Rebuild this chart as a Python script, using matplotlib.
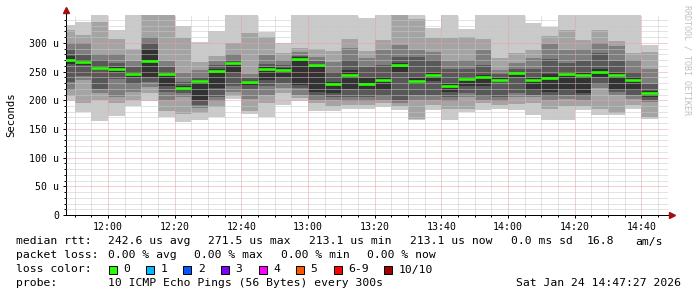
import numpy as np
import matplotlib
matplotlib.use("Agg")
import matplotlib.pyplot as plt
from matplotlib.patches import Rectangle

# 5 minute bins, minutes after 11:45
bin_start = np.arange(0, 180, 5)

# the 10 pings per bin, sorted low -> high (us); 360 = above the top of the graph
ping1 = [199, 180, 164, 173, 190, 199, 171, 162, 166, 170, 203, 176, 171, 192, 198, 182, 181, 184,
         184, 189, 183, 166, 183, 166, 180, 183, 185, 183, 175, 165, 166, 183, 175, 174, 185, 168]
ping2 = [207, 196, 200, 195, 200, 212, 182, 176, 177, 188, 208, 182, 195, 212, 204, 195, 190, 192,
         191, 195, 190, 168, 192, 185, 185, 195, 192, 193, 195, 185, 190, 190, 185, 178, 192, 170]
ping3 = [218, 235, 212, 205, 215, 223, 200, 205, 186, 198, 215, 203, 210, 222, 210, 200, 200, 198,
         198, 200, 195, 200, 200, 198, 205, 200, 198, 205, 205, 200, 202, 200, 222, 210, 203, 197]
ping4 = [232, 242, 220, 237, 228, 232, 215, 212, 192, 205, 225, 220, 225, 230, 221, 208, 205, 205,
         205, 208, 200, 210, 210, 205, 212, 208, 205, 213, 210, 208, 210, 208, 228, 215, 210, 200]
ping5 = [264, 262, 252, 250, 240, 240, 225, 218, 200, 222, 250, 226, 235, 240, 227, 215, 213, 220,
         218, 218, 250, 228, 233, 215, 225, 225, 232, 240, 218, 215, 218, 213, 241, 218, 218, 205]
ping6 = [277, 270, 260, 258, 250, 290, 250, 225, 236, 255, 267, 234, 258, 256, 275, 264, 232, 252,
         238, 240, 265, 238, 248, 228, 240, 244, 239, 250, 238, 245, 250, 248, 255, 248, 240, 217]
ping7 = [289, 279, 270, 265, 258, 300, 258, 232, 240, 262, 270, 238, 264, 262, 278, 268, 250, 270,
         258, 262, 276, 276, 270, 255, 255, 262, 245, 255, 255, 272, 265, 268, 282, 268, 250, 228]
ping8 = [300, 299, 280, 280, 268, 310, 268, 247, 252, 268, 280, 245, 279, 270, 284, 275, 266, 291,
         273, 288, 296, 288, 285, 268, 270, 288, 253, 265, 273, 298, 288, 290, 300, 295, 270, 255]
ping9 = [322, 313, 337, 307, 290, 360, 360, 309, 266, 278, 300, 318, 310, 282, 291, 290, 286, 306,
         286, 305, 360, 342, 308, 308, 310, 306, 273, 282, 288, 312, 322, 305, 322, 303, 282, 285]
ping10 = [332, 336, 360, 323, 360, 360, 360, 330, 302, 320, 360, 360, 319, 300, 360, 360, 360, 360,
          343, 360, 360, 360, 326, 360, 325, 360, 360, 360, 334, 328, 360, 360, 360, 360, 360, 296]
median = [270, 266, 257, 255, 245, 269, 245, 222, 233, 251, 265, 231, 255, 253, 271.5, 262, 229, 244,
          228, 235, 262, 233, 244, 224, 237, 241, 236, 247, 235, 238, 246, 244, 250, 244, 236, 213.1]

tick_pos = [15, 35, 55, 75, 95, 115, 135, 155, 175]
tick_labels = ["12:00", "12:20", "12:40", "13:00", "13:20", "13:40", "14:00", "14:20", "14:40"]
y_ticks = [0, 50, 100, 150, 200, 250, 300]
y_labels = ["0", "50 u", "100 u", "150 u", "200 u", "250 u", "300 u"]

loss_labels = ["0", "1", "2", "3", "4", "5", "6-9", "10/10"]
loss_colors = ["#26ff00", "#00b8ff", "#0059ff", "#7e00ff", "#ff00ff", "#ff5500", "#ff0000", "#a10000"]
smoke_colors = ["#cacaca", "#a4a4a4", "#7e7e7e", "#585858", "#323232"]

W, H = 697, 297
mono = "DejaVu Sans Mono"

fig = plt.figure(figsize=(W / 100, H / 100), dpi=100)
fig.patch.set_facecolor("white")
ax = fig.add_axes([66 / W, (H - 215) / H, (668 - 66) / W, (215 - 14.5) / H])

pings = [ping1, ping2, ping3, ping4, ping5, ping6, ping7, ping8, ping9, ping10]
xs = np.append(bin_start, 180)
for i in range(5):
    lo = np.append(pings[i], pings[i][-1])
    hi = np.append(pings[9 - i], pings[9 - i][-1])
    ax.fill_between(xs, lo, hi, step="post", color=smoke_colors[i], linewidth=0, zorder=1)

ax.hlines(median, bin_start, bin_start + 5, colors=loss_colors[0], linewidth=1.9, zorder=3)

ax.set_xlim(2.4, 183)
ax.set_ylim(0, 349.5)

ax.set_xticks(tick_pos)
ax.set_xticklabels(tick_labels)
ax.set_xticks(np.arange(5, 185, 5), minor=True)
ax.set_yticks(y_ticks)
ax.set_yticklabels(y_labels)
ax.set_yticks(np.arange(10, 350, 10), minor=True)

# dotted rrdtool style grid, drawn over the smoke
ax.set_axisbelow(False)
ax.grid(which="minor", color="#c8c8c8", linestyle=(0, (1, 1)), linewidth=0.72)
ax.grid(which="major", color="#e8a0a0", linestyle=(0, (1, 1)), linewidth=0.72)

for s in ["top", "right"]:
    ax.spines[s].set_visible(False)
for s in ["left", "bottom"]:
    ax.spines[s].set_color("black")
    ax.spines[s].set_linewidth(0.72)

ax.tick_params(which="major", length=2.5, width=0.72, color="black", pad=2.5, labelsize=7.1)
ax.tick_params(which="minor", length=1.5, width=0.72, color="black")
for lab in ax.get_xticklabels() + ax.get_yticklabels():
    lab.set_family(mono)

# axis arrows
ax.plot([0, 0], [1, 1.02], transform=ax.transAxes, color="black", lw=0.72, clip_on=False)
ax.plot([1, 1.004], [0, 0], transform=ax.transAxes, color="black", lw=0.72, clip_on=False)
ax.plot(0, 1.02, marker="^", markersize=4, color="#a01010", transform=ax.transAxes, clip_on=False)
ax.plot(1.006, 0, marker=">", markersize=4, color="#a01010", transform=ax.transAxes, clip_on=False)


def px_text(x, y, s, **kw):
    kw.setdefault("family", mono)
    kw.setdefault("size", 8.2)
    kw.setdefault("va", "center")
    fig.text(x / W, 1 - y / H, s, **kw)


px_text(11, 114.5, "Seconds", rotation=90, ha="center", size=7.7)
px_text(687.5, 60, "RRDTOOL / TOBI OETIKER", rotation=270, ha="center", size=6, color="#c0c0c0")

# legend lines
y1, y2, y3, y4 = 241.5, 255.5, 269.5, 283.5
px_text(16, y1, "median rtt:")
for x, s in [(108, "242.6 us avg"), (208, "271.5 us max"), (309, "213.1 us min"),
             (410, "213.1 us now"), (511, "0.0 ms sd"), (587, "16.8"), (635, "am/s")]:
    px_text(x, y1, s)
px_text(16, y2, "packet loss:")
for x, s in [(108, "0.00 % avg"), (194, "0.00 % max"), (281, "0.00 % min"), (367, "0.00 % now")]:
    px_text(x, y2, s)
px_text(16, y3, "loss color:")
box_x = [108.5, 146, 183.5, 221, 258.5, 296, 333.5, 384]
for bx, lab, c in zip(box_x, loss_labels, loss_colors):
    fig.add_artist(Rectangle((bx / W, 1 - (y3 + 4) / H), 8 / W, 8 / H, transform=fig.transFigure,
                             facecolor=c, edgecolor="black", linewidth=0.7))
    px_text(bx + 14.5, y3, lab)
px_text(16, y4, "probe:")
px_text(108, y4, "10 ICMP Echo Pings (56 Bytes) every 300s")
px_text(681, y4, "Sat Jan 24 14:47:27 2026", ha="right")

fig.savefig("out.png", dpi=100, facecolor="white")
